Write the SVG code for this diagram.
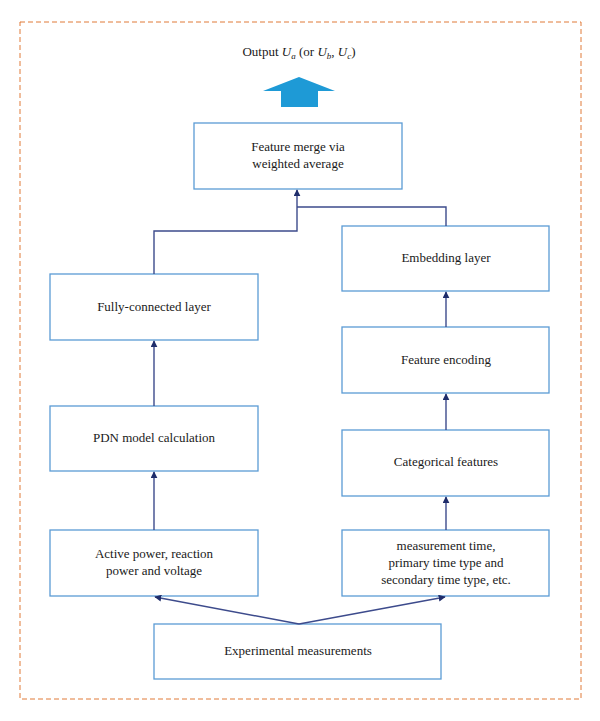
<svg xmlns="http://www.w3.org/2000/svg" width="600" height="721" viewBox="0 0 600 721">
<defs>
<style>
.box{fill:#fff;stroke:#5b9bd5;stroke-width:1.3}
.t{font-family:"Liberation Serif","Times New Roman",serif;font-size:13px;fill:#1a1a1a;text-anchor:middle}
.c{fill:none;stroke:#3d4b8c;stroke-width:1.4}
</style>
<marker id="ah" viewBox="0 0 10 10" refX="9" refY="5" markerWidth="7" markerHeight="7" orient="auto" markerUnits="userSpaceOnUse">
<path d="M0,0 L10,5 L0,10 z" fill="#1f2d6b"/>
</marker>
</defs>
<rect width="600" height="721" fill="#fff"/>
<rect x="20" y="22" width="561" height="677" fill="none" stroke="#e07b39" stroke-width="1" stroke-dasharray="5,3"/>
<g id="output">
<text class="t" x="299" y="56">Output <tspan font-style="italic">U</tspan><tspan font-style="italic" font-size="9" dy="3">a</tspan><tspan dy="-3"> (or </tspan><tspan font-style="italic">U</tspan><tspan font-style="italic" font-size="9" dy="3">b</tspan><tspan dy="-3">, </tspan><tspan font-style="italic">U</tspan><tspan font-style="italic" font-size="9" dy="3">c</tspan><tspan dy="-3">)</tspan></text>
<polygon points="299,77 335,91 318,91 318,107 281,107 281,91 263,91" fill="#1e9ad6"/>
</g>
<g id="merge"><rect class="box" x="194" y="123" width="208" height="66"/><text class="t" x="298" y="151">Feature merge via</text><text class="t" x="298" y="168">weighted average</text></g>
<g id="fc"><rect class="box" x="50" y="274" width="208" height="66"/><text class="t" x="154" y="311">Fully-connected layer</text></g>
<g id="pdn"><rect class="box" x="50" y="406" width="208" height="65"/><text class="t" x="154" y="442">PDN model calculation</text></g>
<g id="active"><rect class="box" x="50" y="530" width="208" height="66"/><text class="t" x="154" y="558">Active power, reaction</text><text class="t" x="154" y="575">power and voltage</text></g>
<g id="embed"><rect class="box" x="342" y="226" width="207" height="65"/><text class="t" x="446" y="262">Embedding layer</text></g>
<g id="encode"><rect class="box" x="342" y="327" width="207" height="66"/><text class="t" x="446" y="364">Feature encoding</text></g>
<g id="cat"><rect class="box" x="342" y="430" width="207" height="66"/><text class="t" x="446" y="466">Categorical features</text></g>
<g id="meas"><rect class="box" x="342" y="530" width="207" height="66"/><text class="t" x="446" y="550">measurement time,</text><text class="t" x="446" y="567">primary time type and</text><text class="t" x="446" y="584">secondary time type, etc.</text></g>
<g id="exp"><rect class="box" x="154" y="624" width="287" height="55"/><text class="t" x="298" y="655">Experimental measurements</text></g>
<g id="connectors">
<path class="c" d="M154,274 V231 H297 V190" marker-end="url(#ah)"/>
<path class="c" d="M446,226 V207 H297"/>
<path class="c" d="M154,406 V341" marker-end="url(#ah)"/>
<path class="c" d="M154,530 V472" marker-end="url(#ah)"/>
<path class="c" d="M446,327 V292" marker-end="url(#ah)"/>
<path class="c" d="M446,430 V394" marker-end="url(#ah)"/>
<path class="c" d="M446,530 V497" marker-end="url(#ah)"/>
<path class="c" d="M299,624 L155,597" marker-end="url(#ah)"/>
<path class="c" d="M299,624 L445,597" marker-end="url(#ah)"/>
</g>
</svg>
